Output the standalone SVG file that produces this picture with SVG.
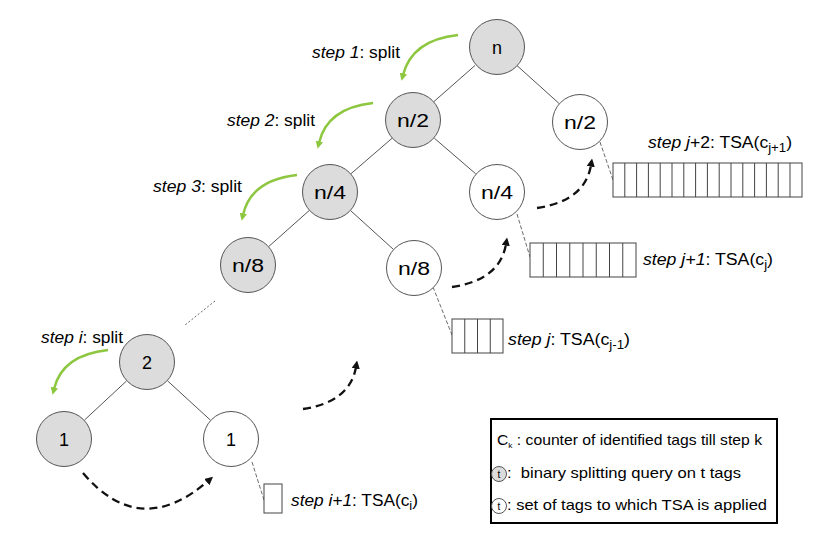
<svg xmlns="http://www.w3.org/2000/svg" width="813" height="548" viewBox="0 0 813 548">
<style>
text{font-family:"Liberation Sans",Arial,sans-serif;fill:#000}
.node circle{stroke:#555;stroke-width:1}
.g{fill:#dcdcdc}
.w{fill:#fff}
.nl{font-size:18px;text-anchor:middle}
.lb{font-size:16px}
.lg{font-size:15px;white-space:pre}
.it{font-style:italic}
.edge{stroke:#555;stroke-width:1;fill:none}
.dot{stroke:#666;stroke-width:1;stroke-dasharray:2,2;fill:none}
.lead{stroke:#444;stroke-width:0.8;stroke-dasharray:4,2;fill:none}
.green{stroke:#8dc63f;stroke-width:2.5;fill:none;marker-end:url(#ga)}
.blk{stroke:#111;stroke-width:2.3;stroke-dasharray:8,5;fill:none;marker-end:url(#ba)}
.box rect{fill:#fff;stroke:#444;stroke-width:1}
</style>
<defs>
<marker id="ga" viewBox="0 0 10 10" refX="2" refY="5" markerWidth="3" markerHeight="3" orient="auto" markerUnits="strokeWidth">
<path d="M0,0 L10,5 L0,10 z" fill="#8dc63f"/>
</marker>
<marker id="ba" viewBox="0 0 10 10" refX="2" refY="5" markerWidth="3.6" markerHeight="3.6" orient="auto" markerUnits="strokeWidth">
<path d="M0,0 L10,5 L0,10 z" fill="#111"/>
</marker>
</defs>
<rect width="813" height="548" fill="#fff"/>

<g id="connectors">
<line class="edge" x1="475" y1="65.5" x2="434" y2="101.5"/>
<line class="edge" x1="517" y1="65.6" x2="559" y2="103.4"/>
<line class="edge" x1="392" y1="138.3" x2="351" y2="173.7"/>
<line class="edge" x1="434.3" y1="138.2" x2="475.7" y2="173.8"/>
<line class="edge" x1="309.1" y1="210.6" x2="268.9" y2="246.4"/>
<line class="edge" x1="350.8" y1="210.8" x2="393.2" y2="249.2"/>
<line class="edge" x1="126.5" y1="381" x2="84.5" y2="420"/>
<line class="edge" x1="167.6" y1="380.9" x2="210.4" y2="420.1"/>
<line class="dot" x1="215" y1="301" x2="185" y2="325"/>
<line class="lead" x1="600" y1="142" x2="613" y2="180"/>
<line class="lead" x1="517" y1="214" x2="530" y2="257"/>
<line class="lead" x1="433" y1="287" x2="452" y2="335"/>
<line class="lead" x1="252" y1="462" x2="264" y2="500"/>
<path class="green" d="M458,35 Q412,40 403,75"/>
<path class="green" d="M373,103 Q327,108 319,143"/>
<path class="green" d="M297,175 Q251,180 243,215"/>
<path class="green" d="M108,350 Q62,355 54,389"/>
<path class="blk" d="M83,473 Q140,540 208,481"/>
<path class="blk" d="M303,409 Q350,402 356,367"/>
<path class="blk" d="M452,287 Q500,280 506,244"/>
<path class="blk" d="M537,208 Q585,201 591,165"/>
</g>

<g id="node-n" class="node"><circle class="g" cx="497" cy="47" r="27.5"/><text class="nl" x="497" y="53.5">n</text></g>
<g id="node-n2-split" class="node"><circle class="g" cx="413" cy="120" r="27.5"/><text class="nl" x="413" y="126.5" textLength="32" lengthAdjust="spacingAndGlyphs">n/2</text></g>
<g id="node-n2-tsa" class="node"><circle class="w" cx="580" cy="122" r="27.5"/><text class="nl" x="580" y="128.5" textLength="32" lengthAdjust="spacingAndGlyphs">n/2</text></g>
<g id="node-n4-split" class="node"><circle class="g" cx="330" cy="192" r="27.5"/><text class="nl" x="330" y="198.5" textLength="32" lengthAdjust="spacingAndGlyphs">n/4</text></g>
<g id="node-n4-tsa" class="node"><circle class="w" cx="497" cy="192" r="27.5"/><text class="nl" x="497" y="198.5" textLength="32" lengthAdjust="spacingAndGlyphs">n/4</text></g>
<g id="node-n8-split" class="node"><circle class="g" cx="248" cy="265" r="27.5"/><text class="nl" x="248" y="271.5" textLength="32" lengthAdjust="spacingAndGlyphs">n/8</text></g>
<g id="node-n8-tsa" class="node"><circle class="w" cx="414" cy="268" r="27.5"/><text class="nl" x="414" y="274.5" textLength="32" lengthAdjust="spacingAndGlyphs">n/8</text></g>
<g id="node-2" class="node"><circle class="g" cx="147" cy="362" r="27.5"/><text class="nl" x="147" y="368.5">2</text></g>
<g id="node-1-split" class="node"><circle class="g" cx="64" cy="439" r="27.5"/><text class="nl" x="64" y="445.5">1</text></g>
<g id="node-1-tsa" class="node"><circle class="w" cx="231" cy="439" r="27.5"/><text class="nl" x="231" y="445.5">1</text></g>

<g id="box-j2" class="box">
<rect x="613" y="163" width="189" height="34"/>
<path d="M624.8,163V197M636.6,163V197M648.4,163V197M660.2,163V197M672,163V197M683.8,163V197M695.6,163V197M707.4,163V197M719.2,163V197M731,163V197M742.8,163V197M754.6,163V197M766.4,163V197M778.2,163V197M790,163V197" stroke="#444" stroke-width="1" fill="none"/>
</g>
<g id="box-j1" class="box">
<rect x="530" y="243" width="106" height="34"/>
<path d="M543.25,243V277M556.5,243V277M569.75,243V277M583,243V277M596.25,243V277M609.5,243V277M622.75,243V277" stroke="#444" stroke-width="1" fill="none"/>
</g>
<g id="box-j" class="box">
<rect x="452" y="319" width="51" height="34"/>
<path d="M464.75,319V353M477.5,319V353M490.25,319V353" stroke="#444" stroke-width="1" fill="none"/>
</g>
<g id="box-i1" class="box">
<rect x="264" y="484" width="18" height="29"/>
</g>

<g id="labels">
<text class="lb" x="312" y="58" textLength="88" lengthAdjust="spacingAndGlyphs"><tspan class="it">step 1</tspan>: split</text>
<text class="lb" x="227" y="126" textLength="88" lengthAdjust="spacingAndGlyphs"><tspan class="it">step 2</tspan>: split</text>
<text class="lb" x="153" y="192" textLength="89" lengthAdjust="spacingAndGlyphs"><tspan class="it">step 3</tspan>: split</text>
<text class="lb" x="41" y="343" textLength="82" lengthAdjust="spacingAndGlyphs"><tspan class="it">step i</tspan>: split</text>
<text class="lb" x="648" y="148" textLength="144" lengthAdjust="spacingAndGlyphs"><tspan class="it">step j</tspan>+2: TSA(c<tspan font-size="12" dy="4">j+1</tspan><tspan dy="-4">)</tspan></text>
<text class="lb" x="643" y="265" textLength="130" lengthAdjust="spacingAndGlyphs"><tspan class="it">step j+1</tspan>: TSA(c<tspan font-size="12" dy="4">j</tspan><tspan dy="-4">)</tspan></text>
<text class="lb" x="508" y="345" textLength="122" lengthAdjust="spacingAndGlyphs"><tspan class="it">step j</tspan>: TSA(c<tspan font-size="12" dy="4">j-1</tspan><tspan dy="-4">)</tspan></text>
<text class="lb" x="291" y="506" textLength="127" lengthAdjust="spacingAndGlyphs"><tspan class="it">step i+1</tspan>: TSA(c<tspan font-size="12" dy="4">i</tspan><tspan dy="-4">)</tspan></text>
</g>

<g id="legend">
<rect x="491" y="419" width="286" height="104" fill="#fff" stroke="#000" stroke-width="2"/>
<text class="lg" x="497" y="445" textLength="265" lengthAdjust="spacingAndGlyphs">C<tspan font-size="8" dy="3">k</tspan><tspan dy="-3"> : counter of identified tags till step k</tspan></text>
<circle cx="499" cy="474" r="7.5" fill="#dcdcdc" stroke="#555" stroke-width="1"/>
<text x="499" y="477.5" font-size="10" text-anchor="middle">t</text>
<text class="lg" x="507" y="478" textLength="234" lengthAdjust="spacingAndGlyphs">:  binary splitting query on t tags</text>
<circle cx="499" cy="506" r="7.5" fill="#fff" stroke="#555" stroke-width="1"/>
<text x="499" y="509.5" font-size="10" text-anchor="middle">t</text>
<text class="lg" x="507" y="510" textLength="260" lengthAdjust="spacingAndGlyphs">: set of tags to which TSA is applied</text>
</g>
</svg>
